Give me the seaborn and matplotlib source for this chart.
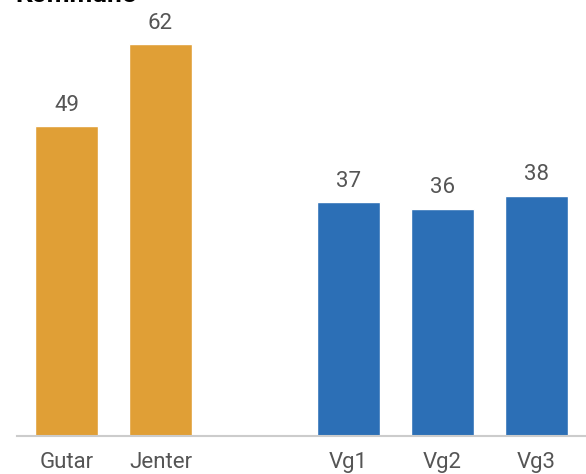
import matplotlib
matplotlib.use("Agg")
import matplotlib.pyplot as plt
import seaborn as sns
import pandas as pd

categories = ["Gutar", "Jenter", "Vg1", "Vg2", "Vg3"]
values = [49, 62, 37, 36, 38]
groups = ["Kjønn", "Kjønn", "Trinn", "Trinn", "Trinn"]
order = ["Gutar", "Jenter", " ", "Vg1", "Vg2", "Vg3"]
title = "Kommune"

df = pd.DataFrame({"cat": categories, "val": values, "grp": groups})

sns.set_theme(style="white")
plt.rcParams["font.family"] = ["Roboto", "DejaVu Sans"]

fig = plt.figure(figsize=(5.86, 4.74), dpi=100)
ax = fig.add_axes([17/586, 38/474, 569/586, 436/474])
sns.barplot(data=df, x="cat", y="val", hue="grp", order=order, dodge=False,
            palette={"Kjønn": "#E09F36", "Trinn": "#2C6FB6"}, width=0.67,
            legend=False, ax=ax, saturation=1)

for c in ax.containers:
    ax.bar_label(c, fmt="%d", padding=7.5, fontsize=16, color="#555555")

ax.set_xlim(-0.527, 5.527)
ax.set_ylim(0, 69)
ax.set_xlabel("")
ax.set_ylabel("")
ax.set_yticks([])
for s in ["top", "right", "left"]:
    ax.spines[s].set_visible(False)
ax.spines["bottom"].set_color("#cccccc")
ax.spines["bottom"].set_linewidth(1.5)
ax.tick_params(axis="x", length=0, pad=11.5, labelsize=16, labelcolor="#555555")
ax.set_xticks(range(len(order)))
ax.set_xticklabels(order)

fig.text(15/586, 1 - 1.5/474, title, fontsize=19, fontweight="bold", color="black",
         va="baseline", ha="left")

fig.savefig("out.png", dpi=100)
